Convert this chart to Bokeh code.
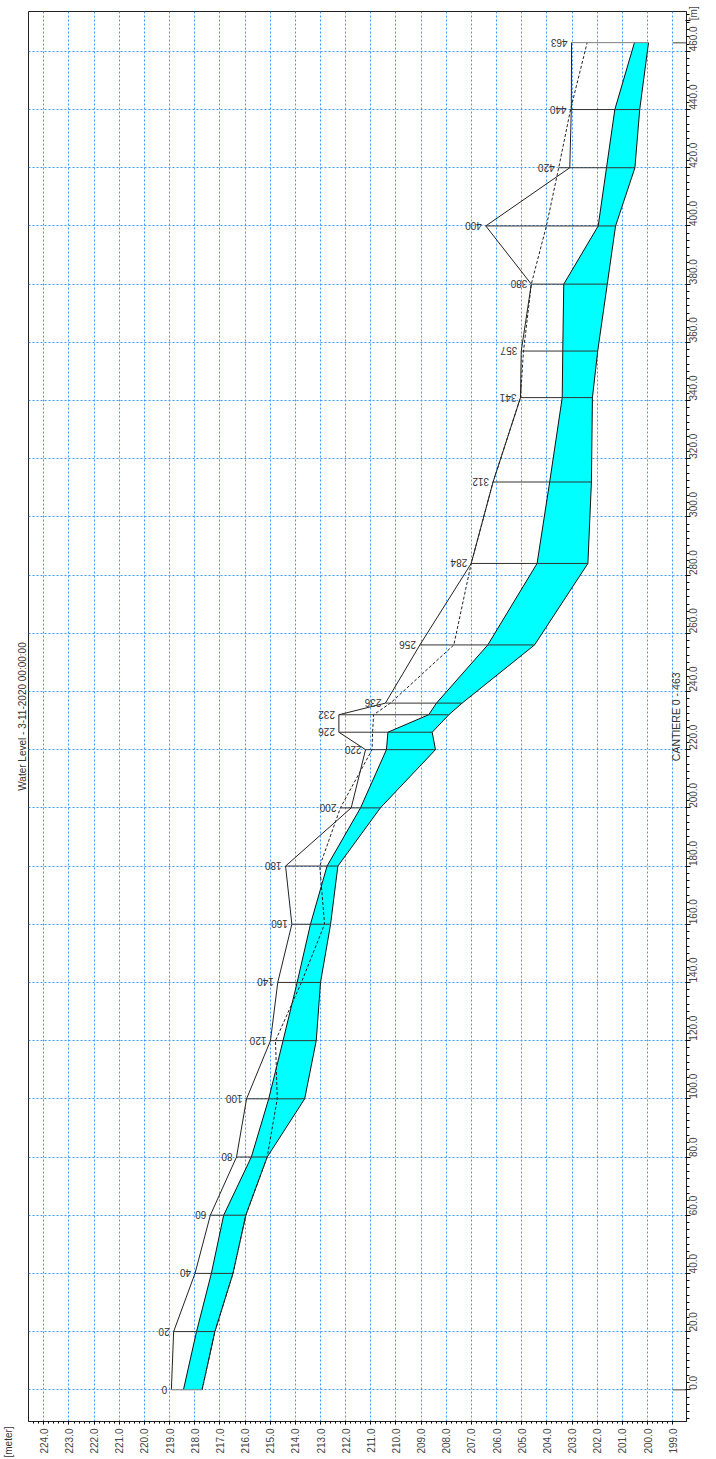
import math
from bokeh.plotting import figure
from bokeh.models import Range1d, FixedTicker, NumeralTickFormatter, Label, Title, CustomJSTickFormatter
from bokeh.embed import file_html
from bokeh.resources import INLINE
from bokeh.core.properties import value

# ---- data ----
chainage = [0, 20, 40, 60, 80, 100, 120, 140, 160, 180, 200, 220, 226, 232, 236,
            256, 284, 312, 341, 357, 380, 400, 420, 440, 463]
section_names = ["0", "20", "40", "60", "80", "100", "120", "140", "160", "180", "200",
                 "220", "226", "232", "236", "256", "284", "312", "341", "357", "380",
                 "400", "420", "440", "463"]
left_bank = [218.93, 218.84, 217.99, 217.38, 216.34, 215.94, 214.99, 214.70, 214.14, 214.39,
             211.78, 211.21, 212.27, 212.27, 210.42, 209.05, 207.01, 206.14, 205.05, 205.02,
             204.62, 206.43, 203.09, 203.03, 203.02]
right_bank = [217.71, 217.20, 216.48, 215.97, 215.12, 214.72, 214.79, 213.76, 212.84, 213.03,
              212.21, 210.95, 210.93, 210.89, 210.22, 207.70, 207.01, 206.14, 205.05, 204.93,
              204.62, 204.02, 203.53, 203.06, 202.40]
water_level = [218.45, 217.93, 217.34, 216.85, 215.75, 215.06, 214.49, 213.93, 213.40, 212.74,
               211.41, 210.38, 210.32, 208.70, 208.39, 206.35, 204.39, 203.89, 203.39, 203.37,
               203.33, 201.96, 201.63, 201.30, 200.52]
bed_level = [217.71, 217.20, 216.48, 215.97, 215.12, 213.63, 213.17, 213.00, 212.60, 212.31,
             210.62, 208.43, 208.56, 207.90, 207.37, 204.49, 202.37, 202.23, 202.19, 201.98,
             201.60, 201.27, 200.50, 200.31, 199.96]

elev_ticks = list(range(199, 225))
chain_ticks = list(range(0, 461, 20))
unit_tick = 470.7          # where the "[m]" unit text sits on the chainage axis
branch_ends = [0, 463]

title_text = "Water Level - 3-11-2020 00:00:00"
branch_text = "CANTIERE 0 - 463"
x_unit_text = "[meter]"
y_unit_text = "[m]"

# ---- figure ----
x_start, x_end = 224.61, 198.45
y_start, y_end = -10.9, 473.7

p = figure(width=716, height=1459, output_backend="svg", toolbar_location=None,
           x_range=Range1d(x_start, x_end), y_range=Range1d(y_start, y_end),
           x_axis_location="below", y_axis_location="right",
           min_border_left=28, min_border_right=30, min_border_top=11, min_border_bottom=38)
p.title = None
p.background_fill_color = "white"
p.border_fill_color = "white"
p.outline_line_color = "#222222"
p.outline_line_width = 1

font = "Liberation Sans"

main_title = Title(text=title_text, align="center", standoff=2,
                   text_font=font, text_font_size="10px", text_font_style="normal",
                   text_color="#333333")
p.add_layout(main_title, "left")
unit_title = Title(text=x_unit_text, align="left", offset=-36, standoff=0,
                   text_font=font, text_font_size="10px", text_font_style="normal",
                   text_color="#333333")
p.add_layout(unit_title, "left")

xt = FixedTicker(ticks=elev_ticks, minor_ticks=[199 + i * 0.2 for i in range(0, 128)])
p.xaxis.ticker = xt
p.xaxis.formatter = NumeralTickFormatter(format="0.0")
p.xaxis.major_label_orientation = math.pi / 2
p.xaxis.major_label_text_font = font
p.xaxis.major_label_text_font_size = "10px"
p.xaxis.major_label_text_color = "#444444"
p.xaxis.major_label_standoff = 4
p.xaxis.major_tick_out = 3
p.xaxis.major_tick_in = 0
p.xaxis.minor_tick_out = 2
p.xaxis.minor_tick_in = 0
p.xaxis.axis_line_color = "#222222"

minor_chain = [i * 2.5 for i in range(-4, 190)]
yt_axis = FixedTicker(ticks=chain_ticks + [unit_tick], minor_ticks=minor_chain)
yt_grid = FixedTicker(ticks=chain_ticks, minor_ticks=minor_chain)
p.yaxis.ticker = yt_axis
p.yaxis.formatter = CustomJSTickFormatter(
    args=dict(unit=y_unit_text, ut=unit_tick),
    code="return (Math.abs(tick - ut) < 0.01) ? unit : tick.toFixed(1);")
p.yaxis.major_label_orientation = math.pi / 2
p.yaxis.major_label_text_font = font
p.yaxis.major_label_text_font_size = "10px"
p.yaxis.major_label_text_color = "#444444"
p.yaxis.major_label_standoff = 3
p.yaxis.major_tick_out = 4
p.yaxis.major_tick_in = 1
p.yaxis.minor_tick_out = 3
p.yaxis.minor_tick_in = 0
p.yaxis.axis_line_color = "#222222"

p.xgrid.ticker = xt
p.ygrid.ticker = yt_grid
for g in (p.xgrid, p.ygrid):
    g.grid_line_color = "#3D9BFF"
    g.grid_line_dash = "2 2"
    g.grid_line_width = 1

# ---- water body ----
p.harea(y=chainage, x1=water_level, x2=bed_level, fill_color="#00FFFF", fill_alpha=1.0)
p.line(water_level, chainage, line_color="#111111", line_width=1)
p.line(bed_level, chainage, line_color="#111111", line_width=1)

# banks
p.line(left_bank, chainage, line_color="#222222", line_width=1)
p.line(right_bank, chainage, line_color="#222222", line_width=1, line_dash="3 2")

# section lines
tops = [max(a, b) for a, b in zip(left_bank, right_bank)]
sec_colors = ["#333333"] * len(chainage)
sec_colors[0] = "#808080"
sec_colors[-1] = "#808080"
p.segment(x0=tops, y0=chainage, x1=bed_level, y1=chainage, line_color=sec_colors, line_width=1)

# branch end markers on the right
p.segment(x0=[elev_ticks[0]] * 2, y0=branch_ends, x1=[x_end] * 2, y1=branch_ends,
          line_color="#808080", line_width=1.5)

# section labels (upside down)
p.text(x=tops, y=chainage, text=section_names, angle=math.pi,
       text_align="left", text_baseline="middle", x_offset=-4,
       text_font=value(font), text_font_size="10px", text_color="#333333")

# branch name inside the frame
p.add_layout(Label(x=198.85, y=231.3, text=branch_text, angle=math.pi / 2,
                   text_align="center", text_baseline="middle",
                   text_font=font, text_font_size="10.5px", text_color="#333333"))

open("out.html", "w").write(file_html(p, INLINE))
